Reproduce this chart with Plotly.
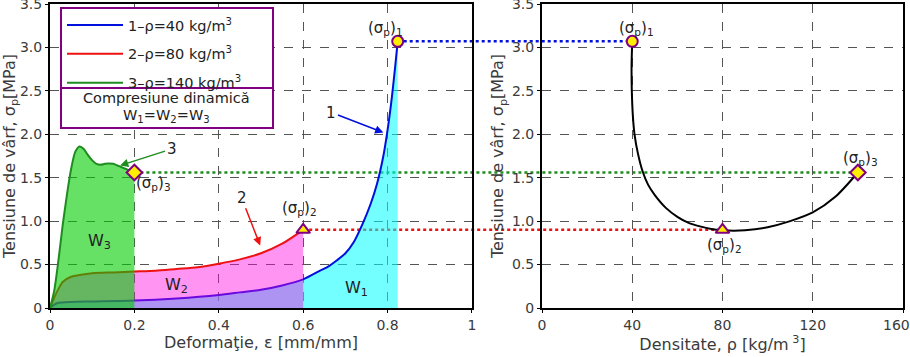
import plotly.graph_objects as go

# ---------------- data ----------------
# Curve 1: rho = 40 kg/m3
eps_1 = [0, 0.01, 0.02, 0.05, 0.1, 0.2, 0.3, 0.4, 0.45, 0.5, 0.55, 0.6, 0.64, 0.66,
         0.68, 0.70, 0.72, 0.74, 0.76, 0.775, 0.79, 0.80, 0.81, 0.818, 0.824]
sig_1 = [0, 0.04, 0.06, 0.07, 0.075, 0.085, 0.11, 0.15, 0.18, 0.21, 0.26, 0.33, 0.43, 0.48,
         0.55, 0.63, 0.76, 0.96, 1.2, 1.43, 1.75, 2.05, 2.42, 2.78, 3.07]
# Curve 2: rho = 80 kg/m3
eps_2 = [0, 0.01, 0.02, 0.03, 0.05, 0.07, 0.1, 0.15, 0.2, 0.25, 0.3, 0.35, 0.4, 0.45,
         0.5, 0.55, 0.6]
sig_2 = [0, 0.12, 0.22, 0.3, 0.36, 0.38, 0.4, 0.41, 0.42, 0.43, 0.45, 0.47, 0.51, 0.56,
         0.63, 0.74, 0.9]
# Curve 3: rho = 140 kg/m3
eps_3 = [0, 0.01, 0.02, 0.03, 0.04, 0.05, 0.06, 0.07, 0.08, 0.09, 0.1, 0.11, 0.12, 0.13,
         0.14, 0.15, 0.16, 0.17, 0.18, 0.19, 0.2]
sig_3 = [0, 0.2, 0.55, 0.95, 1.3, 1.6, 1.8, 1.86, 1.83, 1.76, 1.7, 1.66, 1.65, 1.66,
         1.665, 1.66, 1.64, 1.62, 1.6, 1.58, 1.56]

# Peak stresses
density = [40, 80, 140]
peak_eps = [0.824, 0.6, 0.2]
peak_sig = [3.07, 0.9, 1.56]
peak_symbols = ["circle", "triangle-up", "diamond"]
peak_names = ["(σ<sub>p</sub>)<sub>1</sub>", "(σ<sub>p</sub>)<sub>2</sub>", "(σ<sub>p</sub>)<sub>3</sub>"]

# Right chart: peak stress vs density
rho_curve = [40, 39.7, 39.8, 40.3, 41, 42.5, 44.5, 47, 50, 55, 60, 65, 70, 75, 80, 85,
             90, 100, 110, 120, 130, 140]
sig_curve = [3.07, 2.8, 2.5, 2.2, 2.0, 1.78, 1.58, 1.42, 1.3, 1.15, 1.05, 0.98, 0.94,
             0.91, 0.895, 0.89, 0.895, 0.93, 1.0, 1.1, 1.28, 1.56]

legend_names = ["1–ρ=40 kg/m<sup>3</sup>", "2–ρ=80 kg/m<sup>3</sup>", "3–ρ=140 kg/m<sup>3</sup>"]
line_colors = ["#0010dd", "#ee1111", "#1e8c1e"]
fill_colors = ["rgba(0,255,255,0.55)", "rgba(255,0,225,0.42)", "rgba(0,205,0,0.6)"]

y_ticks = [0, 0.5, 1.0, 1.5, 2.0, 2.5, 3.0, 3.5]
y_ticktext = ["0", "0.5", "1.0", "1.5", "2.0", "2.5", "3.0", "3.5"]
x1_ticks = [0, 0.2, 0.4, 0.6, 0.8, 1]
x1_ticktext = ["0", "0.2", "0.4", "0.6", "0.8", "1"]
x2_ticks = [0, 40, 80, 120, 160]
x2_ticktext = ["0", "40", "80", "120", "160\u00a0\u00a0\u00a0"]

FONT = "DejaVu Sans"
TXT = "#3a3a3a"
PURPLE = "#800080"

dom_left = [0, 0.4947]
dom_right = [0.5768, 1]

fig = go.Figure()

curves = [(eps_1, sig_1), (eps_2, sig_2), (eps_3, sig_3)]
for i, (ex, sy) in enumerate(curves):
    # filled area (no outline)
    fig.add_trace(go.Scatter(
        x=ex, y=sy, mode="lines", showlegend=False, hoverinfo="skip",
        line=dict(color=line_colors[i], width=0, shape="spline", smoothing=0.7),
        fill="tozeroy", fillcolor=fill_colors[i], xaxis="x", yaxis="y"))
    # curve line
    fig.add_trace(go.Scatter(
        x=ex, y=sy, mode="lines", name=legend_names[i],
        line=dict(color=line_colors[i], width=2, shape="spline", smoothing=0.7),
        legendgroup=str(i), xaxis="x", yaxis="y"))

# peak markers (left)
for i in range(3):
    fig.add_trace(go.Scatter(
        x=[peak_eps[i]], y=[peak_sig[i]], mode="markers", showlegend=False,
        marker=dict(symbol=peak_symbols[i], size=12 if i else 11, color="#ffee00",
                    line=dict(color=PURPLE, width=2)),
        xaxis="x", yaxis="y"))

# right curve
fig.add_trace(go.Scatter(
    x=rho_curve, y=sig_curve, mode="lines", showlegend=False,
    line=dict(color="black", width=2, shape="spline", smoothing=0.8),
    xaxis="x2", yaxis="y2"))
for i in range(3):
    fig.add_trace(go.Scatter(
        x=[density[i]], y=[peak_sig[i]], mode="markers", showlegend=False,
        marker=dict(symbol=peak_symbols[i], size=12 if i else 11, color="#ffee00",
                    line=dict(color=PURPLE, width=2)),
        xaxis="x2", yaxis="y2"))

def px_left(e):
    return dom_left[0] + e * (dom_left[1] - dom_left[0])

def px_right(r):
    return dom_right[0] + r / 160 * (dom_right[1] - dom_right[0])

shapes = []
for i in range(3):
    shapes.append(dict(type="line", xref="paper", yref="y",
                       x0=px_left(peak_eps[i]), x1=px_right(density[i]),
                       y0=peak_sig[i], y1=peak_sig[i], layer="below",
                       line=dict(color=line_colors[i], width=2.5, dash="dot")))

# legend box
def bx(p):
    return (p - 50) / 853

def by(p):
    return (308 - p) / 304

shapes.append(dict(type="rect", xref="paper", yref="paper", x0=bx(61), x1=bx(273),
                   y0=by(128), y1=by(8), fillcolor="white",
                   line=dict(color=PURPLE, width=2), layer="above"))
shapes.append(dict(type="line", xref="paper", yref="paper", x0=bx(61), x1=bx(273),
                   y0=by(88), y1=by(88), line=dict(color=PURPLE, width=2), layer="above"))

ann = []
def txt(x, y, t, xr="x", yr="y", size=14):
    ann.append(dict(x=x, y=y, xref=xr, yref=yr, text=t, showarrow=False,
                    xanchor="center", yanchor="middle",
                    font=dict(family=FONT, size=size, color="#222")))

# labels of peaks (left)
txt(0.794, 3.22, peak_names[0], size=15)
txt(0.592, 1.14, peak_names[1], size=15)
txt(0.245, 1.43, peak_names[2], size=15)
# labels of peaks (right)
txt(42, 3.22, peak_names[0], "x2", "y2", size=15)
txt(81, 0.72, peak_names[1], "x2", "y2", size=15)
txt(141, 1.72, peak_names[2], "x2", "y2", size=15)
# areas
txt(0.118, 0.76, "W<sub>3</sub>", size=16)
txt(0.30, 0.26, "W<sub>2</sub>", size=16)
txt(0.727, 0.22, "W<sub>1</sub>", size=16)
# legend box text
txt(bx(166), by(98), "Compresiune dinamică", "paper", "paper", size=14.5)
txt(bx(166), by(116), "W<sub>1</sub>=W<sub>2</sub>=W<sub>3</sub>", "paper", "paper", size=14.5)

# arrows
arrows = [(0.166, 1.64, 0.288, 1.83, "3", line_colors[2]),
          (0.498, 0.72, 0.454, 1.27, "2", line_colors[1]),
          (0.79, 2.02, 0.667, 2.25, "1", line_colors[0])]
for (x, y, axv, ayv, t, c) in arrows:
    ann.append(dict(x=x, y=y, ax=axv, ay=ayv, xref="x", yref="y", axref="x", ayref="y",
                    text=t, showarrow=True, arrowhead=2, arrowsize=1.1, arrowwidth=1.5,
                    arrowcolor=c, standoff=0,
                    font=dict(family=FONT, size=15, color="#222")))

axis_common = dict(showline=True, linecolor="black", linewidth=2, mirror=True,
                   showgrid=True, gridcolor="#555555", griddash="dash", gridwidth=1,
                   zeroline=False, ticks="outside", ticklen=3, tickcolor="black",
                   automargin=False, ticklabeloverflow="allow",
                   tickfont=dict(family=FONT, size=14, color=TXT))
title_font = dict(family=FONT, size=16, color=TXT)

fig.update_layout(
    width=910, height=357,
    margin=dict(l=50, r=7, t=4, b=49, autoexpand=False),
    paper_bgcolor="white", plot_bgcolor="rgba(0,0,0,0)",
    font=dict(family=FONT, color=TXT),
    xaxis=dict(domain=dom_left, range=[0, 1], tickvals=x1_ticks, ticktext=x1_ticktext,
               anchor="y",
               title=dict(text="Deformaţie, ε [mm/mm]", font=title_font, standoff=4),
               **axis_common),
    yaxis=dict(domain=[0, 1], range=[0, 3.5], tickvals=y_ticks, ticktext=y_ticktext,
               anchor="x",
               title=dict(text="Tensiune de vârf, σ<sub>p</sub>[MPa]", font=title_font,
                          standoff=4),
               **axis_common),
    xaxis2=dict(domain=dom_right, range=[0, 160], tickvals=x2_ticks, ticktext=x2_ticktext,
                anchor="y2",
                title=dict(text="Densitate, ρ [kg/m<sup> 3</sup>]", font=title_font,
                           standoff=4),
                **axis_common),
    yaxis2=dict(domain=[0, 1], range=[0, 3.5], tickvals=y_ticks, ticktext=y_ticktext,
                anchor="x2",
                title=dict(text="Tensiune de vârf, σ<sub>p</sub>[MPa]", font=title_font,
                           standoff=4),
                **axis_common),
    shapes=shapes,
    annotations=ann,
    showlegend=True,
    legend=dict(x=bx(62), y=by(9), xanchor="left", yanchor="top",
                bgcolor="rgba(0,0,0,0)", borderwidth=0,
                font=dict(family=FONT, size=14.5, color="#222"),
                traceorder="grouped", tracegroupgap=7, itemwidth=56),
)

fig.write_html("out.html", config={"displayModeBar": False},
               post_script="document.body.style.margin='0';document.body.style.overflow='hidden';")
